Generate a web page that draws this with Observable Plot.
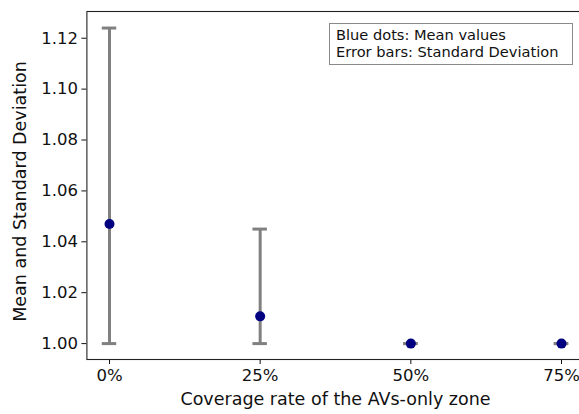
<!DOCTYPE html>
<html>
<head>
<meta charset="utf-8">
<script src="https://cdn.jsdelivr.net/npm/d3@7"></script>
<script src="https://cdn.jsdelivr.net/npm/@observablehq/plot@0.6"></script>
<style>
  body { margin: 0; background: #fff; }
  #wrap { position: relative; width: 579px; height: 414px; overflow: hidden; font-family: "DejaVu Sans", sans-serif; }
  #legend { position: absolute; left: 329px; top: 23px; width: 232px; padding: 3px 4px 4px 6px;
            border: 1px solid #8a8a8a; background: #fff; font-size: 14.6px; line-height: 16.5px; color: #111; white-space: nowrap; }
</style>
</head>
<body>
<div id="wrap"><div id="legend">Blue dots: Mean values<br>Error bars: Standard Deviation</div></div>
<script>
const categories = ["0%", "25%", "50%", "75%"];
const means = [1.047, 1.0107, 1.0, 1.0];
const lows = [1.0, 1.0, 1.0, 1.0];
const highs = [1.124, 1.045, 1.0, 1.0];
const yTicks = [1.00, 1.02, 1.04, 1.06, 1.08, 1.10, 1.12];
const xLabel = "Coverage rate of the AVs-only zone";
const yLabel = "Mean and Standard Deviation";

const data = categories.map((c, i) => ({i, c, mean: means[i], lo: lows[i], hi: highs[i]}));
const cap = 0.048;

const chart = Plot.plot({
  width: 579,
  height: 414,
  marginLeft: 86.4,
  marginRight: -4.6,
  marginTop: 11,
  marginBottom: 55,
  style: {fontFamily: "DejaVu Sans, sans-serif", fontSize: "16.5px", color: "#111", background: "#fff"},
  x: {domain: [-0.15, 3.15], ticks: [0, 1, 2, 3], tickFormat: i => categories[i], tickSize: 5, tickPadding: 5, label: null},
  y: {domain: [0.99375, 1.1305], ticks: yTicks, tickFormat: d3.format(".2f"), tickSize: 5, tickPadding: 4, label: null},
  marks: [
    Plot.frame({stroke: "#222", strokeWidth: 1.1}),
    Plot.ruleX(data, {x: "i", y1: "lo", y2: "hi", stroke: "#808080", strokeWidth: 3}),
    Plot.ruleY(data, {y: "hi", x1: d => d.i - cap, x2: d => d.i + cap, stroke: "#808080", strokeWidth: 3}),
    Plot.ruleY(data, {y: "lo", x1: d => d.i - cap, x2: d => d.i + cap, stroke: "#808080", strokeWidth: 3}),
    Plot.dot(data, {x: "i", y: "mean", r: 5, fill: "#000080", stroke: "none"}),
    Plot.text([xLabel], {text: d => d, frameAnchor: "bottom", textAnchor: "middle", dy: 45, fontSize: 17.5, fill: "#111"}),
    Plot.text([yLabel], {text: d => d, frameAnchor: "left", textAnchor: "middle", lineAnchor: "middle", rotate: -90, dx: -67, dy: 6, fontSize: 17.5, fill: "#111"})
  ]
});
document.getElementById("wrap").prepend(chart);
</script>
</body>
</html>
